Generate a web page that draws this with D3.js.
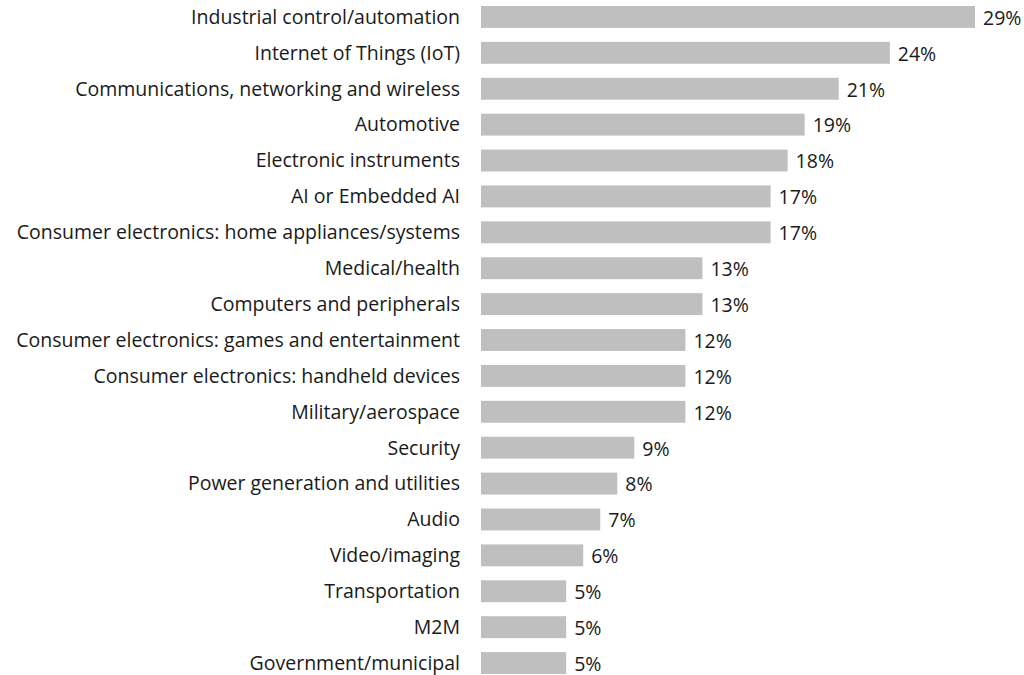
<!DOCTYPE html>
<html><head><meta charset="utf-8">
<script src="https://cdn.jsdelivr.net/npm/d3@7"></script>
<style>body{margin:0;background:#fff}svg{display:block}</style>
</head><body>
<script>
const categories = ["Industrial control/automation","Internet of Things (IoT)","Communications, networking and wireless","Automotive","Electronic instruments","AI or Embedded AI","Consumer electronics: home appliances/systems","Medical/health","Computers and peripherals","Consumer electronics: games and entertainment","Consumer electronics: handheld devices","Military/aerospace","Security","Power generation and utilities","Audio","Video/imaging","Transportation","M2M","Government/municipal"];
const values = [29,24,21,19,18,17,17,13,13,12,12,12,9,8,7,6,5,5,5];
const valueLabels = ["29%","24%","21%","19%","18%","17%","17%","13%","13%","12%","12%","12%","9%","8%","7%","6%","5%","5%","5%"];

const W = 1024, H = 675;
const svg = d3.select("body").append("svg").attr("width", W).attr("height", H);
const x0 = 481;
const x = d3.scaleLinear().domain([0, 29]).range([x0, 975]);
const y = d3.scaleBand().domain(categories).range([-1, 681]).paddingInner(0.39).paddingOuter(0.195);
const font = "'Open Sans', sans-serif";

svg.selectAll("rect.bar").data(categories).join("rect")
  .attr("class","bar")
  .attr("x", x0).attr("y", d => y(d))
  .attr("width", (d,i) => x(values[i]) - x0)
  .attr("height", y.bandwidth())
  .attr("fill", "#bfbfbf");

svg.selectAll("text.cat").data(categories).join("text")
  .attr("class","cat")
  .attr("x", 460).attr("y", d => y(d) + y.bandwidth()/2)
  .attr("dy", "0.35em").attr("text-anchor","end")
  .attr("font-family", font).attr("font-size", 19.5).attr("fill", "#1a1a1a")
  .text(d => d);

svg.selectAll("text.val").data(categories).join("text")
  .attr("class","val")
  .attr("x", (d,i) => x(values[i]) + 8).attr("y", d => y(d) + y.bandwidth()/2 + 1)
  .attr("dy", "0.35em")
  .attr("font-family", font).attr("font-size", 19.5).attr("fill", "#1a1a1a")
  .text((d,i) => valueLabels[i]);
</script>
</body></html>
